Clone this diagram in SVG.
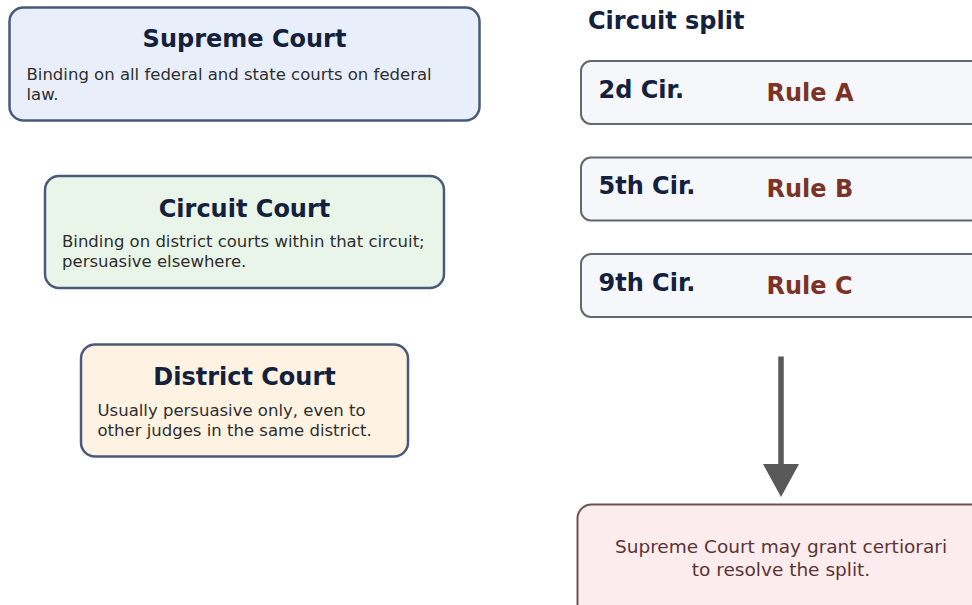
<svg xmlns="http://www.w3.org/2000/svg" width="972" height="605" viewBox="0 0 972 605">
<style>
.t{font-family:"DejaVu Sans","Liberation Sans",sans-serif;font-weight:bold;font-size:24px;fill:#14213d}
.b{font-family:"DejaVu Sans","Liberation Sans",sans-serif;font-size:16.5px;fill:#2e2e2e}
.lvl{stroke:#4a5a7a;stroke-width:2.5}
.cir{fill:#f5f7fb;stroke:#66666e;stroke-width:2}
.rule{font-family:"DejaVu Sans","Liberation Sans",sans-serif;font-weight:bold;font-size:24px;fill:#7b3328}
.res{font-family:"DejaVu Sans","Liberation Sans",sans-serif;font-size:18.5px;fill:#5a3434}
</style>
<defs>
<marker id="ah" viewBox="0 0 33 36" refX="2" refY="18" markerWidth="33" markerHeight="36" markerUnits="userSpaceOnUse" orient="auto">
<path d="M0,0 L33,18 L0,36 Z" fill="#595959"/>
</marker>
</defs>
<rect width="972" height="605" fill="#ffffff"/>
<g id="supreme">
<rect class="lvl" x="9.5" y="7.5" width="470" height="113" rx="14" fill="#e8effb"/>
<text class="t" x="244.5" y="46.7" text-anchor="middle">Supreme Court</text>
<text class="b" x="26.5" y="79.5">Binding on all federal and state courts on federal</text>
<text class="b" x="26.5" y="99.5">law.</text>
</g>
<g id="circuit">
<rect class="lvl" x="45" y="176" width="399" height="112" rx="14" fill="#eaf5ea"/>
<text class="t" x="244.5" y="216.7" text-anchor="middle">Circuit Court</text>
<text class="b" x="62" y="247.2">Binding on district courts within that circuit;</text>
<text class="b" x="62" y="267.2">persuasive elsewhere.</text>
</g>
<g id="district">
<rect class="lvl" x="81" y="344.5" width="327" height="112" rx="14" fill="#fef2e2"/>
<text class="t" x="244.5" y="385" text-anchor="middle">District Court</text>
<text class="b" x="97.5" y="415.7">Usually persuasive only, even to</text>
<text class="b" x="97.5" y="435.7">other judges in the same district.</text>
</g>
<g id="split-title">
<text class="t" x="588" y="29.3">Circuit split</text>
</g>
<g id="cir2">
<rect class="cir" x="581" y="61" width="420" height="63" rx="10"/>
<text class="t" x="598.5" y="97.5">2d Cir.</text>
<text class="rule" x="766.5" y="100.7">Rule A</text>
</g>
<g id="cir5">
<rect class="cir" x="581" y="157.5" width="420" height="63" rx="10"/>
<text class="t" x="598.5" y="194">5th Cir.</text>
<text class="rule" x="766.5" y="197.2">Rule B</text>
</g>
<g id="cir9">
<rect class="cir" x="581" y="254" width="420" height="63" rx="10"/>
<text class="t" x="598.5" y="290.5">9th Cir.</text>
<text class="rule" x="766.5" y="293.7">Rule C</text>
</g>
<g id="resolve">
<rect x="577.5" y="504.5" width="420" height="130" rx="14" fill="#fdeced" stroke="#6e5252" stroke-width="2"/>
<text class="res" x="781" y="552.7" text-anchor="middle">Supreme Court may grant certiorari</text>
<text class="res" x="781" y="576" text-anchor="middle">to resolve the split.</text>
</g>
<g id="connectors">
<line x1="781" y1="356.5" x2="781" y2="466" stroke="#595959" stroke-width="5.5" marker-end="url(#ah)"/>
</g>
</svg>
